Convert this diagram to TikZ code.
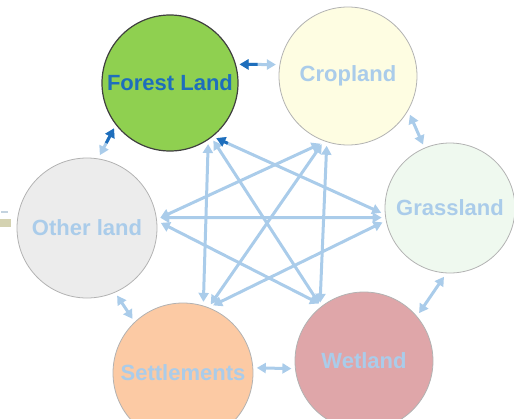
\documentclass[tikz,border=0pt]{standalone}
\usepackage{fontspec}
\setmainfont{Liberation Sans}
\usetikzlibrary{arrows.meta}

\definecolor{forestfill}{RGB}{143,208,80}
\definecolor{cropfill}{RGB}{254,253,226}
\definecolor{grassfill}{RGB}{239,249,239}
\definecolor{otherfill}{RGB}{236,236,236}
\definecolor{settlefill}{RGB}{252,202,164}
\definecolor{wetfill}{RGB}{223,166,169}
\definecolor{paleblue}{RGB}{170,204,234}
\definecolor{deepblue}{RGB}{30,110,188}

\begin{document}
\begin{tikzpicture}
[x=1pt,y=-1pt,
 every node/.style={circle,inner sep=0pt,outer sep=4pt,draw=black!30,line width=0.8pt,
   text=paleblue,font=\bfseries\fontsize{22}{24}\selectfont},
 link/.style={draw=paleblue,line width=3pt,{Triangle[length=9pt,width=10pt]}-{Triangle[length=9pt,width=10pt]}},
 darklink/.style={draw=deepblue,line width=3pt,-{Triangle[length=9pt,width=10pt]}}]
  \useasboundingbox (0,0) rectangle (514,418);
  \clip (0,0) rectangle (514,418);

  % bits at the left edge
  \fill[paleblue!70!gray!60] (1,211) rectangle (8,212.5);
  \fill[yellow!30!gray!55] (0,219) rectangle (11,227);

  \node[fill=forestfill,draw=black!75,line width=1.2pt,text=deepblue,minimum size=136pt] (forest) at (170,83) {Forest Land};
  \node[fill=cropfill,minimum size=138pt] (crop) at (348,76) {Cropland};
  \node[fill=grassfill,minimum size=130pt] (grass) at (450,208) {Grassland};
  \node[fill=wetfill,minimum size=138pt] (wet) at (364,361) {Wetland};
  \node[fill=settlefill,minimum size=140pt] (settle) at (183,373) {Settlements};
  \node[fill=otherfill,minimum size=140pt] (other) at (87,228) {Other land};

  % across the ring
  \foreach \from/\to in {forest.-58/settle.74, forest.-53/wet.128, forest.-50/grass.-176,
      crop.-112/other.8, crop.-111/settle.68, crop.-107/wet.127,
      other.8/grass.-172, other.4/wet.128, settle.66/grass.-168}
    \draw[link] (\from) -- (\to);

  % round the ring
  \foreach \from/\to in {crop.-32/grass.113, grass.-95/wet.41, wet.-174/settle.4, settle.133/other.-66}
    \draw[link] (\from) -- (\to);
  \draw[link] (forest.15) -- (crop.171);
  \draw[link] (other.80) -- (forest.-141);

  % dark ends at Forest Land
  \path (crop.171) -- (forest.15) coordinate[pos=0.5] (fcmid);
  \draw[darklink] (fcmid) -- (forest.15);
  \path (other.80) -- (forest.-141) coordinate[pos=0.45] (ofmid);
  \draw[darklink] (ofmid) -- (forest.-141);
  \path (grass.-176) -- (forest.-50) coordinate[pos=0.93] (fgmid);
  \draw[darklink] (fgmid) -- (forest.-50);
\end{tikzpicture}
\end{document}
